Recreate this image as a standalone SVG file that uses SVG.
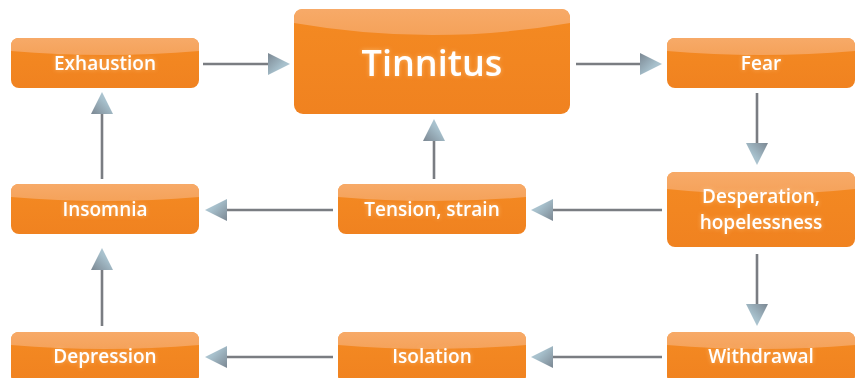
<svg xmlns="http://www.w3.org/2000/svg" width="862" height="378" viewBox="0 0 862 378">
  <defs>
    <linearGradient id="body" x1="0" y1="0" x2="0" y2="1">
      <stop offset="0" stop-color="#f48a22"/>
      <stop offset="1" stop-color="#f08220"/>
    </linearGradient>
    <linearGradient id="gloss" x1="0" y1="0" x2="0" y2="1">
      <stop offset="0" stop-color="#f7aa68"/>
      <stop offset="1" stop-color="#f5a25a"/>
    </linearGradient>
    <linearGradient id="head" x1="0" y1="0" x2="1" y2="1">
      <stop offset="0" stop-color="#7b8792"/>
      <stop offset="0.6" stop-color="#a6bfcb"/>
      <stop offset="1" stop-color="#b9d0db"/>
    </linearGradient>
    <marker id="arr" markerUnits="userSpaceOnUse" markerWidth="23" markerHeight="23" refX="0" refY="11" orient="auto" overflow="visible">
      <path d="M0,0 L22,11 L0,22 Z" fill="url(#head)"/>
    </marker>
    <filter id="glow" x="-20%" y="-40%" width="140%" height="180%">
      <feGaussianBlur in="SourceAlpha" stdDeviation="2.2" result="b"/>
      <feFlood flood-color="#ffd39a" flood-opacity="0.55"/>
      <feComposite in2="b" operator="in" result="g"/>
      <feMerge><feMergeNode in="g"/><feMergeNode in="SourceGraphic"/></feMerge>
    </filter>
  </defs>
  <style>
    .box { fill: url(#body); }
    .gl { fill: url(#gloss); }
    .t { font-family: "Open Sans", "Liberation Sans", sans-serif; font-weight: 600; font-size: 19px; fill: #ffffff; text-anchor: middle; filter: url(#glow); }
    .big { font-size: 36px; }
    .c { stroke: #7a7d82; stroke-width: 2.6; fill: none; marker-end: url(#arr); }
  </style>
  <rect width="862" height="378" fill="#ffffff"/>

  <g id="connectors">
    <line class="c" x1="203" y1="64" x2="268" y2="64"/>
    <line class="c" x1="576" y1="64" x2="640" y2="64"/>
    <line class="c" x1="757" y1="93" x2="757" y2="143"/>
    <line class="c" x1="662" y1="210" x2="553" y2="210"/>
    <line class="c" x1="333" y1="210" x2="227" y2="210"/>
    <line class="c" x1="434" y1="179" x2="434" y2="141"/>
    <line class="c" x1="102" y1="179" x2="102" y2="114"/>
    <line class="c" x1="757" y1="254" x2="757" y2="304"/>
    <line class="c" x1="662" y1="357" x2="553" y2="357"/>
    <line class="c" x1="333" y1="357" x2="227" y2="357"/>
    <line class="c" x1="102" y1="326" x2="102" y2="270"/>
  </g>

  <g id="exhaustion">
    <rect class="box" x="11" y="38" width="188" height="50" rx="8"/>
    <path class="gl" d="M11,51 L11,46 Q11,38 19,38 L191,38 Q199,38 199,46 L199,51 Q105,59 11,51 Z"/>
    <text class="t" x="105" y="70">Exhaustion</text>
  </g>

  <g id="tinnitus">
    <rect class="box" x="294" y="9" width="276" height="105" rx="9"/>
    <path class="gl" d="M294,23 L294,18 Q294,9 303,9 L561,9 Q570,9 570,18 L570,23 Q432,47 294,23 Z"/>
    <text class="t big" x="432" y="76">Tinnitus</text>
  </g>

  <g id="fear">
    <rect class="box" x="667" y="38" width="188" height="50" rx="8"/>
    <path class="gl" d="M667,51 L667,46 Q667,38 675,38 L847,38 Q855,38 855,46 L855,51 Q761,59 667,51 Z"/>
    <text class="t" x="761" y="70">Fear</text>
  </g>

  <g id="insomnia">
    <rect class="box" x="11" y="184" width="188" height="50" rx="8"/>
    <path class="gl" d="M11,197 L11,192 Q11,184 19,184 L191,184 Q199,184 199,192 L199,197 Q105,205 11,197 Z"/>
    <text class="t" x="105" y="216">Insomnia</text>
  </g>

  <g id="tension">
    <rect class="box" x="338" y="184" width="188" height="50" rx="8"/>
    <path class="gl" d="M338,197 L338,192 Q338,184 346,184 L518,184 Q526,184 526,192 L526,197 Q432,205 338,197 Z"/>
    <text class="t" x="432" y="216">Tension, strain</text>
  </g>

  <g id="desperation">
    <rect class="box" x="667" y="172" width="188" height="75" rx="8"/>
    <path class="gl" d="M667,189 L667,180 Q667,172 675,172 L847,172 Q855,172 855,180 L855,189 Q761,199 667,189 Z"/>
    <text class="t" x="761" y="203">Desperation,</text>
    <text class="t" x="761" y="229">hopelessness</text>
  </g>

  <g id="depression">
    <rect class="box" x="11" y="332" width="188" height="52" rx="8"/>
    <path class="gl" d="M11,345 L11,340 Q11,332 19,332 L191,332 Q199,332 199,340 L199,345 Q105,353 11,345 Z"/>
    <text class="t" x="105" y="363">Depression</text>
  </g>

  <g id="isolation">
    <rect class="box" x="338" y="332" width="188" height="52" rx="8"/>
    <path class="gl" d="M338,345 L338,340 Q338,332 346,332 L518,332 Q526,332 526,340 L526,345 Q432,353 338,345 Z"/>
    <text class="t" x="432" y="363">Isolation</text>
  </g>

  <g id="withdrawal">
    <rect class="box" x="667" y="332" width="188" height="52" rx="8"/>
    <path class="gl" d="M667,345 L667,340 Q667,332 675,332 L847,332 Q855,332 855,340 L855,345 Q761,353 667,345 Z"/>
    <text class="t" x="761" y="363">Withdrawal</text>
  </g>
</svg>
